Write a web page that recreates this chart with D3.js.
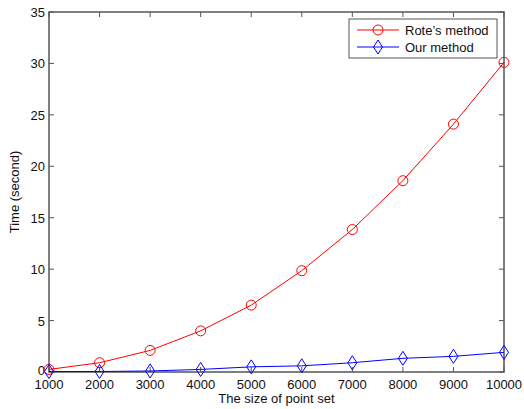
<!DOCTYPE html>
<html><head><meta charset="utf-8">
<script src="https://cdn.jsdelivr.net/npm/d3@7"></script>
<style>body{margin:0;background:#fff}svg{display:block;font-family:"Liberation Sans",Arial,sans-serif}</style>
</head><body>
<svg id="c" width="524" height="409"></svg>
<script>
const sizes = [1000,2000,3000,4000,5000,6000,7000,8000,9000,10000];
const roteTime = [0.25,0.9,2.1,4.0,6.5,9.85,13.85,18.6,24.1,30.1];
const ourTime = [0.05,0.05,0.1,0.25,0.5,0.6,0.9,1.33,1.52,1.91];
const xTicks = [1000,2000,3000,4000,5000,6000,7000,8000,9000,10000];
const yTicks = [0,5,10,15,20,25,30,35];
const seriesNames = ["Rote\u2019s method","Our method"];
const seriesColors = ["#ff0000","#0000ff"];

const svg = d3.select("#c");
const L=49,R=504,T=12,B=372;
const x = d3.scaleLinear().domain([1000,10000]).range([L,R]);
const y = d3.scaleLinear().domain([0,35]).range([B,T]);
const axisCol="#555";

const g = svg.append("g");
g.append("rect").attr("x",L).attr("y",T).attr("width",R-L).attr("height",B-T)
 .attr("fill","none").attr("stroke",axisCol).attr("stroke-width",1.5);
const tl=5;
xTicks.forEach(v=>{
  g.append("line").attr("x1",x(v)).attr("x2",x(v)).attr("y1",B).attr("y2",B-tl).attr("stroke",axisCol);
  g.append("line").attr("x1",x(v)).attr("x2",x(v)).attr("y1",T).attr("y2",T+tl).attr("stroke",axisCol);
  g.append("text").attr("x",x(v)).attr("y",B+17).attr("text-anchor","middle").attr("font-size",13).attr("fill","#111").text(v);
});
yTicks.forEach(v=>{
  g.append("line").attr("x1",L).attr("x2",L+tl).attr("y1",y(v)).attr("y2",y(v)).attr("stroke",axisCol);
  g.append("line").attr("x1",R).attr("x2",R-tl).attr("y1",y(v)).attr("y2",y(v)).attr("stroke",axisCol);
  g.append("text").attr("x",L-4).attr("y",y(v)+(v===0?3:5)).attr("text-anchor","end").attr("font-size",13).attr("fill","#111").text(v);
});
g.append("text").attr("x",(L+R)/2).attr("y",403).attr("text-anchor","middle").attr("font-size",13).attr("fill","#111").text("The size of point set");
g.append("text").attr("transform","translate(19,"+((T+B)/2)+") rotate(-90)").attr("text-anchor","middle").attr("font-size",13).attr("fill","#111").text("Time (second)");

const line = d3.line().x(d=>x(d[0])).y(d=>y(d[1]));
const circleMark=(sel,cx,cy,col)=>sel.append("circle").attr("cx",cx).attr("cy",cy).attr("r",5).attr("fill","none").attr("stroke",col).attr("stroke-width",1);
const diamondMark=(sel,cx,cy,col)=>sel.append("path").attr("d",`M${cx},${cy-7}L${cx+4.5},${cy}L${cx},${cy+7}L${cx-4.5},${cy}Z`).attr("fill","none").attr("stroke",col).attr("stroke-width",1);

const data1 = sizes.map((s,i)=>[s,roteTime[i]]);
const data2 = sizes.map((s,i)=>[s,ourTime[i]]);
g.append("path").datum(data1).attr("d",line).attr("fill","none").attr("stroke",seriesColors[0]).attr("stroke-width",1);
data1.forEach(d=>circleMark(g,x(d[0]),y(d[1]),seriesColors[0]));
g.append("path").datum(data2).attr("d",line).attr("fill","none").attr("stroke",seriesColors[1]).attr("stroke-width",1);
data2.forEach(d=>diamondMark(g,x(d[0]),y(d[1]),seriesColors[1]));

const lg = svg.append("g");
lg.append("rect").attr("x",349).attr("y",19).attr("width",148).attr("height",39).attr("fill","#fff").attr("stroke",axisCol).attr("stroke-width",1);
[0,1].forEach(i=>{
  const yy = 30+i*17;
  lg.append("line").attr("x1",357).attr("x2",399).attr("y1",yy).attr("y2",yy).attr("stroke",seriesColors[i]);
  if(i===0) circleMark(lg,378,yy,seriesColors[0]); else diamondMark(lg,378,yy,seriesColors[1]);
  lg.append("text").attr("x",405).attr("y",yy+5).attr("font-size",13).attr("fill","#111").text(seriesNames[i]);
});
</script>
</body></html>
